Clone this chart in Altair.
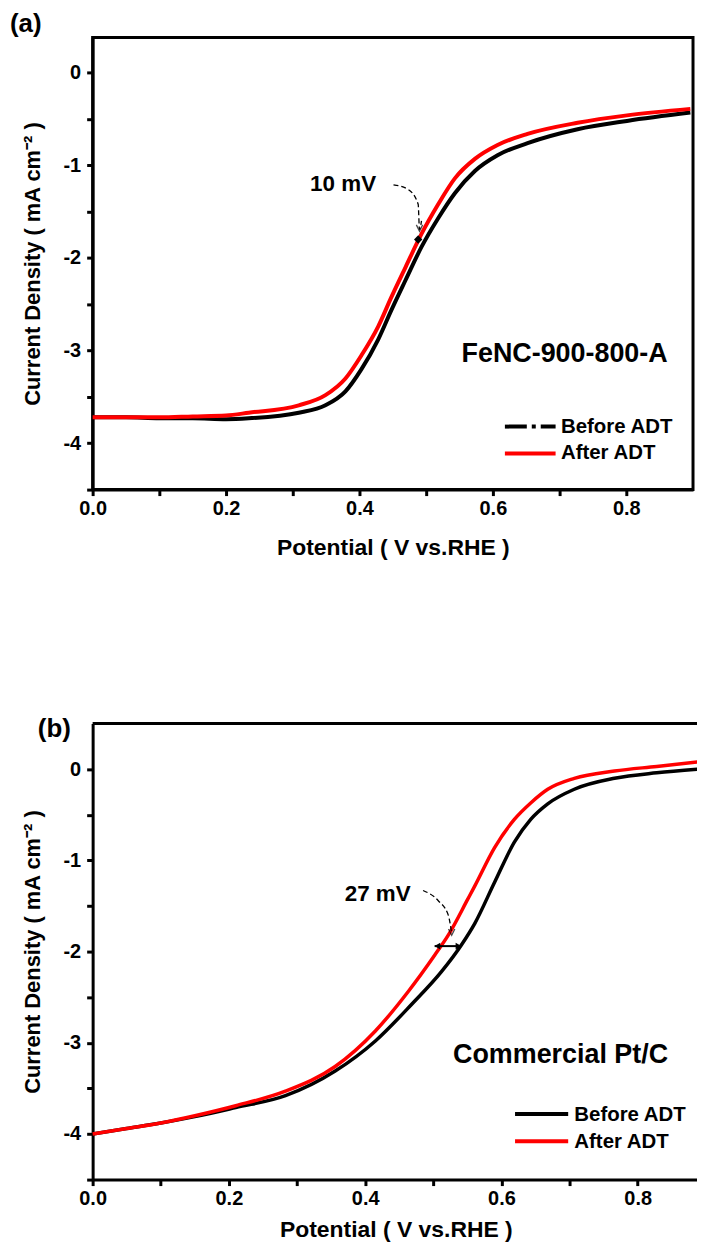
import altair as alt
import pandas as pd

FONT = "Liberation Sans"
BLACK = "#000000"
RED = "#ff0000"

# ---------------- Panel (a): FeNC-900-800-A ----------------
a_before_x = [0.000, 0.050, 0.100, 0.150, 0.200, 0.234, 0.309, 0.349, 0.379, 0.403, 0.428,
              0.448, 0.469, 0.493, 0.518, 0.543, 0.573, 0.607, 0.652, 0.727, 0.801, 0.896]
a_before_y = [-3.72, -3.72, -3.73, -3.73, -3.74, -3.73, -3.67, -3.59, -3.44, -3.20, -2.88,
              -2.56, -2.24, -1.88, -1.57, -1.30, -1.06, -0.89, -0.76, -0.61, -0.52, -0.43]
a_after_x = [0.000, 0.050, 0.100, 0.150, 0.200, 0.234, 0.309, 0.349, 0.379, 0.403, 0.428,
             0.448, 0.469, 0.493, 0.518, 0.543, 0.573, 0.607, 0.652, 0.727, 0.801, 0.896]
a_after_y = [-3.72, -3.72, -3.72, -3.71, -3.70, -3.67, -3.59, -3.48, -3.30, -3.05, -2.74,
             -2.42, -2.10, -1.74, -1.42, -1.14, -0.93, -0.78, -0.66, -0.54, -0.46, -0.39]

# ---------------- Panel (b): Commercial Pt/C ----------------
b_before_x = [0.000, 0.050, 0.100, 0.150, 0.210, 0.283, 0.356, 0.415, 0.468, 0.512, 0.541,
              0.561, 0.590, 0.619, 0.643, 0.668, 0.707, 0.766, 0.828, 0.889]
b_before_y = [-4.00, -3.94, -3.88, -3.81, -3.71, -3.58, -3.31, -2.98, -2.58, -2.22, -1.93,
              -1.69, -1.24, -0.80, -0.55, -0.38, -0.22, -0.10, -0.04, 0.00]
b_after_x = [0.000, 0.050, 0.100, 0.150, 0.210, 0.283, 0.356, 0.415, 0.463, 0.502, 0.522,
             0.551, 0.561, 0.590, 0.619, 0.643, 0.668, 0.707, 0.766, 0.828, 0.889]
b_after_y = [-4.00, -3.94, -3.88, -3.80, -3.69, -3.53, -3.26, -2.87, -2.44, -2.04, -1.82,
             -1.42, -1.28, -0.86, -0.55, -0.37, -0.22, -0.10, -0.02, 0.03, 0.08]

series_names = ["Before ADT", "After ADT"]
x_tick_values = [0.0, 0.1, 0.2, 0.3, 0.4, 0.5, 0.6, 0.7, 0.8]
y_tick_values = [-4.5, -4.0, -3.5, -3.0, -2.5, -2.0, -1.5, -1.0, -0.5, 0.0]

# annotations (data units)
a_sample = "FeNC-900-800-A"
b_sample = "Commercial Pt/C"
a_shift_text = "10 mV"
b_shift_text = "27 mV"
a_arrow_x = [0.451, 0.473, 0.488, 0.493, 0.490]
a_arrow_y = [-1.21, -1.26, -1.42, -1.60, -1.69]
b_arrow_x = [0.485, 0.507, 0.522, 0.527]
b_arrow_y = [-1.33, -1.44, -1.60, -1.80]


def x_enc(domain, tpad=18):
    return alt.X("x:Q", scale=alt.Scale(domain=domain, nice=False, zero=False),
                 axis=alt.Axis(title="Potential ( V vs.RHE )", values=x_tick_values, titlePadding=tpad,
                               titleFontSize=23, labelPadding=3,
                               labelExpr="round(datum.value*10) % 2 == 0 ? format(datum.value, '.1f') : ''"))


def y_enc(domain):
    return alt.Y("y:Q", scale=alt.Scale(domain=domain, nice=False, zero=False),
                 axis=alt.Axis(title="Current Density ( mA cm\u207b\u00b2 )", values=y_tick_values,
                               titleFontSize=22, labelPadding=6, titlePadding=19,
                               labelExpr="datum.value == round(datum.value) ? toString(datum.value) : ''"))


class Panel:
    def __init__(self, xd, yd, tpad):
        self.xd, self.yd, self.tpad = xd, yd, tpad

    def X(self):
        return x_enc(self.xd, self.tpad)

    def Y(self):
        return y_enc(self.yd)

    def line(self, xs, ys, color, width):
        df = pd.DataFrame({"x": xs, "y": ys})
        return alt.Chart(df).mark_line(color=color, strokeWidth=width, interpolate="monotone").encode(
            x=self.X(), y=self.Y())

    def text(self, txt, x, y, size):
        df = pd.DataFrame({"x": [x], "y": [y], "t": [txt]})
        return alt.Chart(df).mark_text(font=FONT, fontWeight="bold", fontSize=size, color="black",
                                       align="left", baseline="alphabetic").encode(
            x=self.X(), y=self.Y(), text="t:N")

    def point(self, x, y, **kw):
        df = pd.DataFrame({"x": [x], "y": [y]})
        return alt.Chart(df).mark_point(**kw).encode(x=self.X(), y=self.Y())

    def dashed(self, xs, ys):
        df = pd.DataFrame({"x": xs, "y": ys})
        return alt.Chart(df).mark_line(color="black", strokeWidth=1.3, strokeDash=[5, 3],
                                       interpolate="monotone").encode(x=self.X(), y=self.Y())

    def hrule(self, x0, x1, y, color, width, dash=None):
        df = pd.DataFrame({"x": [x0], "x2": [x1], "y": [y]})
        kw = {"strokeDash": dash} if dash else {}
        return alt.Chart(df).mark_rule(color=color, strokeWidth=width, **kw).encode(
            x=self.X(), x2="x2:Q", y=self.Y())

    def legend(self, x0, x1, ys_line, xt, ys_text, dash):
        out = []
        for i, (name, col) in enumerate(zip(series_names, [BLACK, RED])):
            out.append(self.hrule(x0, x1, ys_line[i], col, 4, dash if i == 0 else None))
            out.append(self.text(name, xt, ys_text[i], 20.5))
        return out


def panel_label(txt, px, py):
    df = pd.DataFrame({"t": [txt]})
    return alt.Chart(df).mark_text(font=FONT, fontWeight="bold", fontSize=26, color="black",
                                   align="left", baseline="alphabetic").encode(
        x=alt.value(px), y=alt.value(py), text="t:N")


# ---------- build panel (a) ----------
PA = Panel([0, 0.9], [-4.5, 0.38], 18)
a_layers = [
    PA.line(a_before_x, a_before_y, BLACK, 4),
    PA.line(a_after_x, a_after_y, RED, 4),
    PA.dashed(a_arrow_x, a_arrow_y),
    PA.point(a_arrow_x[-1], a_arrow_y[-1], shape="M -1 -1.4 L 0 0.6 L 1 -1.4", filled=False,
             stroke="black", strokeWidth=1.3, size=40),
    PA.point(0.488, -1.80, shape="diamond", filled=True, color="black", size=70, opacity=1),
    PA.text(a_shift_text, 0.326, -1.28, 22.5),
    PA.text(a_sample, 0.553, -3.12, 27),
    panel_label("(a)", -83, -6),
] + PA.legend(0.618, 0.694, [-3.82, -4.11], 0.702, [-3.89, -4.17], [22, 5, 4, 5])

panel_a = alt.layer(*a_layers).properties(
    width=603, height=454, view=alt.ViewBackground(stroke="black", strokeWidth=3))

# ---------- build panel (b) ----------
PB = Panel([0, 0.89], [-4.5, 0.5], 10)
WB = 609
b_layers = [
    PB.line(b_before_x, b_before_y, BLACK, 3.5),
    PB.line(b_after_x, b_after_y, RED, 3.5),
    PB.dashed(b_arrow_x, b_arrow_y),
    PB.point(b_arrow_x[-1], b_arrow_y[-1], shape="M -1 -1.4 L 0 0.6 L 1 -1.4", filled=False,
             stroke="black", strokeWidth=1.3, size=40),
    PB.hrule(0.502, 0.541, -1.94, "black", 2),
    PB.point(0.506, -1.94, shape="triangle-left", filled=True, color="black", size=45, opacity=1),
    PB.point(0.537, -1.94, shape="triangle-right", filled=True, color="black", size=45, opacity=1),
    PB.text(b_shift_text, 0.370, -1.44, 22.5),
    PB.text(b_sample, 0.529, -3.22, 27),
    panel_label("(b)", -55, 13),
    alt.Chart(pd.DataFrame({"t": [0]})).mark_rule(color="black", strokeWidth=3).encode(
        x=alt.value(0), x2=alt.value(WB + 2), y=alt.value(0)),
] + PB.legend(0.620, 0.698, [-3.78, -4.08], 0.707, [-3.86, -4.15], None)

panel_b = alt.layer(*b_layers).properties(
    width=WB, height=458, view=alt.ViewBackground(stroke="transparent"))

chart = alt.vconcat(panel_a, panel_b, spacing=154).properties(
    padding={"left": 0, "top": -2, "right": -9, "bottom": 0}
).configure_axis(
    labelFont=FONT, titleFont=FONT, labelFontSize=20, titleFontSize=23,
    labelFontWeight="bold", titleFontWeight="bold", labelColor="black", titleColor="black",
    domainColor="black", domainWidth=3, tickColor="black", tickWidth=3, tickSize=6,
    grid=False, labelFlush=False, labelOverlap=False
)

chart.save("out.html", embed_options={"renderer": "svg", "actions": False})
